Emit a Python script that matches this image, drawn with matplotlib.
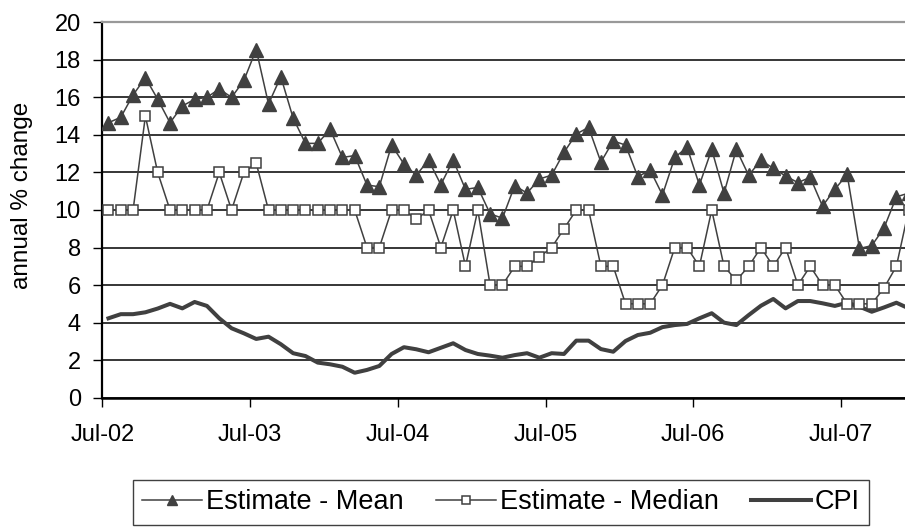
import numpy as np
import matplotlib
matplotlib.use('Agg')
import matplotlib.pyplot as plt

plt.rcParams['font.family'] = ['Liberation Sans', 'DejaVu Sans']

# monthly survey data, starting Jul-02
tick_labels = ['Jul-02', 'Jul-03', 'Jul-04', 'Jul-05', 'Jul-06', 'Jul-07']

est_mean = [14.65, 14.94, 16.13, 17.05, 15.9, 14.65, 15.54, 15.9, 16.0, 16.45,
            16.0, 16.9, 18.55, 15.65, 17.1, 14.9, 13.55, 13.55, 14.3, 12.8,
            12.9, 11.33, 11.24, 13.46, 12.45, 11.85, 12.66, 11.35, 12.66, 11.1,
            11.2, 9.8, 9.56, 11.3, 10.9, 11.65, 11.86, 13.07, 14.05, 14.4,
            12.55, 13.68, 13.46, 11.77, 12.13, 10.8, 12.8, 13.34, 11.33, 13.23,
            10.9, 13.23, 11.85, 12.65, 12.22, 11.81, 11.46, 11.74, 10.21, 11.1,
            11.9, 7.95, 8.1, 9.05, 10.7, 10.9]

est_median = [10, 10, 10, 15, 12, 10, 10, 10, 10, 12,
              10, 12, 12.5, 10, 10, 10, 10, 10, 10, 10,
              10, 8, 8, 10, 10, 9.5, 10, 8, 10, 7,
              10, 6, 6, 7, 7, 7.5, 8, 9, 10, 10,
              7, 7, 5, 5, 5, 6, 8, 8, 7, 10,
              7, 6.25, 7, 8, 7, 8, 6, 7, 6, 6,
              5, 5, 5, 5.85, 7, 10]

cpi = [4.23, 4.45, 4.45, 4.55, 4.75, 5.0, 4.76, 5.1, 4.89, 4.23,
       3.7, 3.43, 3.13, 3.25, 2.85, 2.37, 2.22, 1.87, 1.78, 1.65,
       1.33, 1.48, 1.69, 2.33, 2.69, 2.58, 2.42, 2.66, 2.9, 2.54,
       2.33, 2.24, 2.13, 2.27, 2.37, 2.13, 2.37, 2.33, 3.04, 3.04,
       2.59, 2.45, 3.02, 3.34, 3.46, 3.76, 3.87, 3.93, 4.23, 4.5,
       4.0, 3.87, 4.4, 4.9, 5.26, 4.76, 5.15, 5.15, 5.03, 4.89,
       5.06, 4.85, 4.58, 4.81, 5.06, 4.76]

months = np.arange(len(cpi)) + 0.5
dark = '#404040'

fig = plt.figure(figsize=(9.05, 5.28), dpi=100)
ax = fig.add_axes([102.3 / 905, (528 - 397.7) / 528, (905 - 102.3) / 905, 375.4 / 528])

ax.set_axisbelow(True)
ax.yaxis.grid(True, color='black', linewidth=1.1)

ax.plot(months, cpi, color=dark, linewidth=2.9, label='CPI', zorder=2)
ax.plot(months, est_mean, color=dark, linewidth=1.1, marker='^', markersize=9.5,
        markerfacecolor=dark, markeredgecolor=dark, label='Estimate - Mean', zorder=3)
ax.plot(months, est_median, color=dark, linewidth=1.1, marker='s', markersize=7.7,
        markerfacecolor='white', markeredgecolor=dark, markeredgewidth=1.1,
        label='Estimate - Median', zorder=4)

ax.set_xlim(0, 65.2)
ax.set_ylim(0, 20)
ax.set_xticks(range(0, 61, 12))
ax.set_xticklabels(tick_labels)
ax.set_yticks(range(0, 21, 2))
ax.tick_params(axis='both', direction='out', length=6.5, width=1, colors='black', labelsize=17)
ax.tick_params(axis='x', pad=12.5)
ax.tick_params(axis='y', pad=9)

ax.spines['left'].set_linewidth(1.6)
ax.spines['bottom'].set_linewidth(1.8)
ax.spines['top'].set_color('#999999')
ax.spines['top'].set_linewidth(1.6)
ax.spines['right'].set_visible(False)

fig.text(22 / 905, 1 - 195 / 528, 'annual % change', rotation=90,
         ha='center', va='center', fontsize=17.5)

handles, labels = ax.get_legend_handles_labels()
order = [1, 2, 0]
leg = fig.legend([handles[i] for i in order], [labels[i] for i in order],
                 loc='upper left', bbox_to_anchor=(133 / 905, 1 - 480 / 528),
                 ncol=3, fontsize=19.5, frameon=True, fancybox=False,
                 edgecolor=dark, handlelength=2.2, handletextpad=0.15,
                 columnspacing=1.2, borderpad=0.35, borderaxespad=0,
                 markerscale=0.75, framealpha=1)
leg.get_frame().set_linewidth(1.0)

fig.savefig('out.png', dpi=100)
